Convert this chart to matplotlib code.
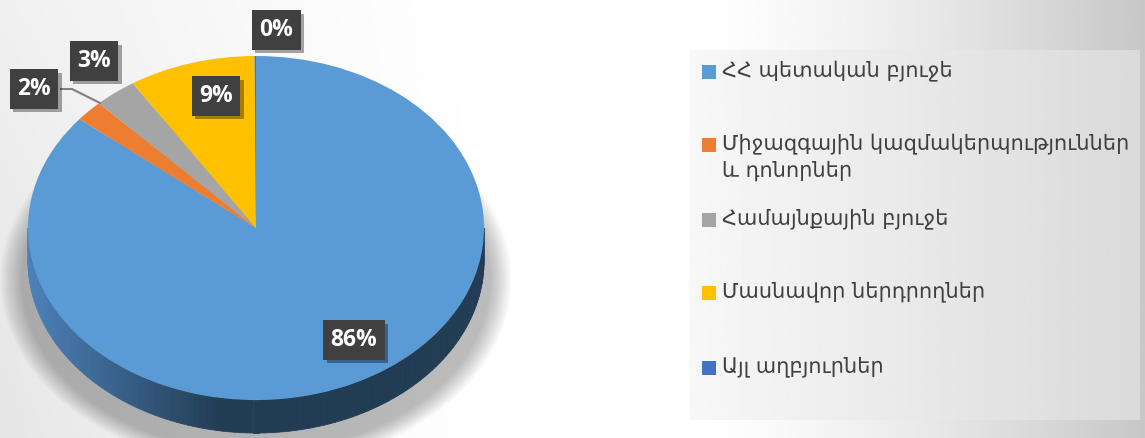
import numpy as np
import matplotlib.pyplot as plt
from matplotlib.patches import Polygon, Ellipse, Rectangle
import matplotlib.patheffects as pe

# sources of funding (Armenian labels) and their shares in %
labels = ["ՀՀ պետական բյուջե",
          "Միջազգային կազմակերպություններ\nև դոնորներ",
          "Համայնքային բյուջե",
          "Մասնավոր ներդրողներ",
          "Այլ աղբյուրներ"]
shares = [86, 2, 3, 9, 0.1]
pct_text = ["86%", "2%", "3%", "9%", "0%"]
colors = ["#5B9BD5", "#ED7D31", "#A5A5A5", "#FFC000", "#4472C4"]

W, H = 1145, 438
fig = plt.figure(figsize=(W / 100, H / 100), dpi=100)

# background gradient
bg = fig.add_axes([0, 0, 1, 1])
xs = np.linspace(0, 1, 400)
ys = np.linspace(0, 1, 100)
X, Y = np.meshgrid(xs, ys)
left = np.clip((0.45 - X) / 0.45, 0, 1)
right = np.clip((X - 0.6) / 0.4, 0, 1)
val = 1 - 0.1 * left ** 1.3 * (0.6 + 0.4 * Y) - 0.22 * right ** 1.4
bg.imshow(val, cmap="gray", vmin=0, vmax=1, extent=[0, 1, 0, 1], aspect="auto", origin="upper")
bg.axis("off")

# pie axes: unit circle -> ellipse 228 x 172 px, centre at (256, 228) from top
cx, cy, rx, ry = 256, 228, 228, 172
pw = 512
ax = fig.add_axes([0, 0, pw / W, 1])
wedges, _ = ax.pie(shares, colors=colors, startangle=90, counterclock=False,
                   radius=1, wedgeprops=dict(linewidth=0), frame=False)
for w in wedges:
    w.set_zorder(5)
ax.set_aspect("auto")
ax.set_xlim(-cx / rx, (pw - cx) / rx)
ax.set_ylim(-(H - cy) / ry, cy / ry)
ax.axis("off")

depth = 33 / ry
# soft shadow under the pie
for k in range(12):
    s = 1.0 + 0.008 * k
    ax.add_patch(Ellipse((0, -0.3), 2 * s * 1.03, 2 * s * 1.0, fc="black",
                         alpha=0.022, lw=0, zorder=1))

# side of the 3d pie with gradient
light = np.array([0x4d, 0x82, 0xba]) / 255
dark = np.array([0x22, 0x3c, 0x54]) / 255
ts = np.linspace(np.pi, 2 * np.pi, 120)
for a, b in zip(ts[:-1], ts[1:]):
    t = (np.cos((a + b) / 2) + 1) / 2
    f = min(1, t / 0.42)
    c = light * (1 - f) + dark * f
    pts = [(np.cos(a), np.sin(a)), (np.cos(b), np.sin(b)),
           (np.cos(b), np.sin(b) - depth), (np.cos(a), np.sin(a) - depth)]
    ax.add_patch(Polygon(pts, closed=True, fc=c, ec=c, lw=0.6, zorder=3))

# overlay axes in pixel coordinates for labels and legend
ov = fig.add_axes([0, 0, 1, 1])
ov.set_xlim(0, W)
ov.set_ylim(H, 0)
ov.axis("off")

label_pos = [(354, 340), (34, 89), (94, 61), (216, 96), (276, 30)]
ov.plot([61, 72, 100], [89, 89, 103], color="#7f7f7f", lw=1.5, zorder=6)
for (lx, ly), t in zip(label_pos, pct_text):
    txt = ov.text(lx, ly, t, ha="center", va="center", color="white",
                  fontsize=16.5, fontweight="bold", family=["Open Sans", "DejaVu Sans"],
                  bbox=dict(boxstyle="square,pad=0.33", fc="#404040", ec="none"),
                  zorder=8)
    txt.get_bbox_patch().set_path_effects(
        [pe.SimplePatchShadow(offset=(2.5, -2.5), shadow_rgbFace="black", alpha=0.35),
         pe.Normal()])

# legend
lg = np.linspace(0.97, 0.855, 200).reshape(1, -1)
ov.imshow(lg, cmap="gray", vmin=0, vmax=1, extent=[690, 1140, 420, 50],
          aspect="auto", zorder=2)
ov.set_xlim(0, W)
ov.set_ylim(H, 0)
rows = [72, 145, 220, 293, 368]
for y, lab, c in zip(rows, labels, colors):
    ov.add_patch(Rectangle((702, y - 7), 14, 14, fc=c, ec="none", zorder=4))
    ov.text(722, y - 12, lab, ha="left", va="top", fontsize=15, color="#404040",
            family=["DejaVu Sans"], linespacing=1.4, zorder=4)

fig.savefig("out.png", dpi=100)
